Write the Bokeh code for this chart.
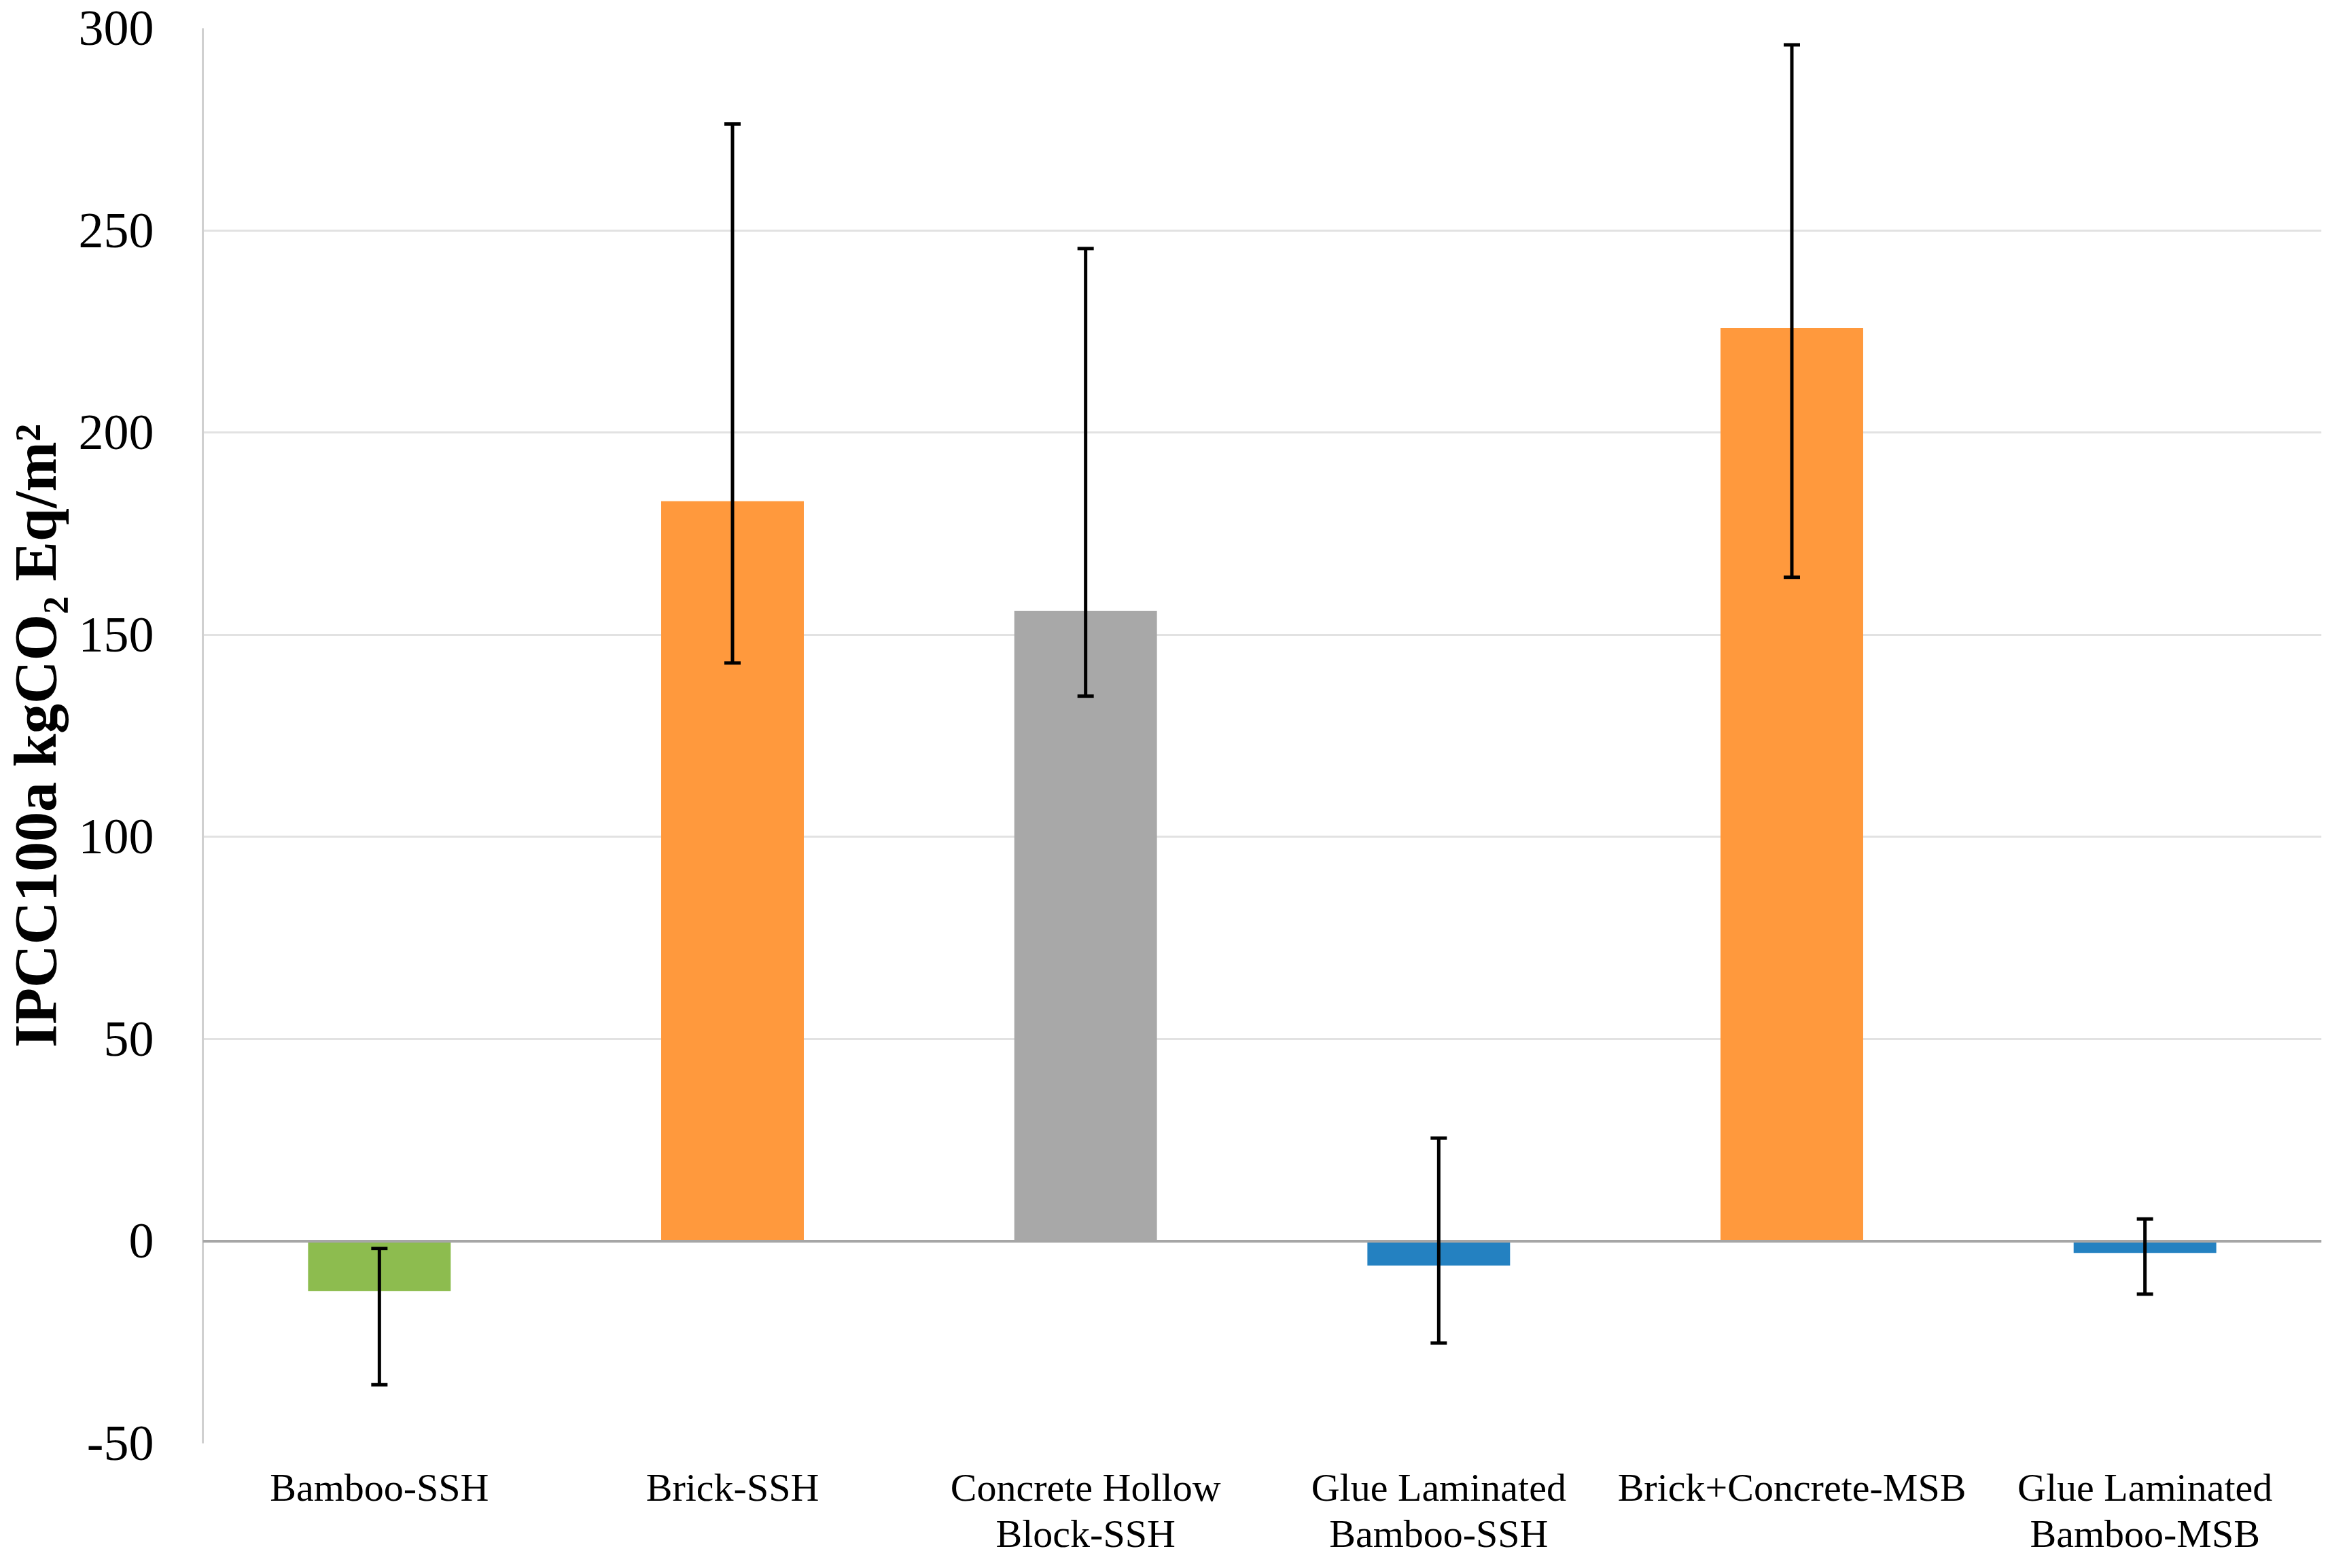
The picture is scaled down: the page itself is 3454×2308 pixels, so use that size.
from bokeh.plotting import figure
from bokeh.models import ColumnDataSource, Range1d, FactorRange, Whisker, Span, FixedTicker, TeeHead
from bokeh.embed import file_html
from bokeh.resources import INLINE

categories = ["Bamboo-SSH", "Brick-SSH", "Concrete Hollow\nBlock-SSH",
              "Glue Laminated\nBamboo-SSH", "Brick+Concrete-MSB", "Glue Laminated\nBamboo-MSB"]
values = [-12.3, 183.0, 155.9, -6.0, 225.8, -2.9]
err_low = [-35.5, 143.0, 134.8, -25.2, 164.2, -13.1]
err_high = [-1.8, 276.3, 245.5, 25.5, 295.9, 5.5]
colors = ["#8DBC4F", "#FF993D", "#A8A8A8", "#2481C1", "#FF993D", "#2481C1"]
y_ticks = [-50, 0, 50, 100, 150, 200, 250, 300]
y_tick_labels = {t: str(t) for t in y_ticks}

FONT = "Liberation Serif"

src = ColumnDataSource(dict(cat=categories, val=values, lo=err_low, hi=err_high, col=colors))

p = figure(width=3438, height=2292, output_backend="svg", toolbar_location=None,
           x_range=FactorRange(factors=categories, range_padding=0),
           y_range=Range1d(-50, 300),
           min_border_left=295, min_border_top=41, min_border_right=22, min_border_bottom=160)
p.outline_line_color = None
p.background_fill_color = "white"

p.vbar(x="cat", top="val", bottom=0, width=0.404, fill_color="col", line_color=None, source=src)

p.add_layout(Span(location=0, dimension="width", line_color="#A6A6A6", line_width=4))

w = Whisker(source=src, base="cat", lower="lo", upper="hi", line_color="black", line_width=5,
            upper_head=TeeHead(size=24, line_color="black", line_width=5),
            lower_head=TeeHead(size=24, line_color="black", line_width=5),
            level="overlay")
p.add_layout(w)

p.yaxis.ticker = FixedTicker(ticks=y_ticks)
p.yaxis.major_label_overrides = y_tick_labels
p.ygrid.ticker = FixedTicker(ticks=y_ticks)
p.ygrid.grid_line_color = "#E2E2E2"
p.ygrid.grid_line_width = 3
p.xgrid.grid_line_color = None

p.yaxis.axis_line_color = "#D0D0D0"
p.yaxis.axis_line_width = 3
p.yaxis.major_tick_line_color = None
p.yaxis.minor_tick_line_color = None
p.yaxis.major_label_text_font = FONT
p.yaxis.major_label_text_font_size = "74px"
p.yaxis.major_label_text_color = "black"
p.yaxis.major_label_standoff = 66
p.yaxis.axis_label = "IPCC100a kgCO\u2082 Eq/m\u00b2"
p.yaxis.axis_label_text_font = FONT
p.yaxis.axis_label_text_font_style = "bold"
p.yaxis.axis_label_text_font_size = "88px"
p.yaxis.axis_label_text_color = "black"
p.yaxis.axis_label_standoff = 12

p.xaxis.axis_line_color = None
p.xaxis.major_tick_line_color = None
p.xaxis.minor_tick_line_color = None
p.xaxis.major_label_text_font = FONT
p.xaxis.major_label_text_font_size = "58px"
p.xaxis.major_label_text_color = "black"
p.xaxis.major_label_text_line_height = 1.05
p.xaxis.major_label_standoff = 26
p.xaxis.major_label_orientation = "horizontal"

open("out.html", "w").write(file_html(p, INLINE))
